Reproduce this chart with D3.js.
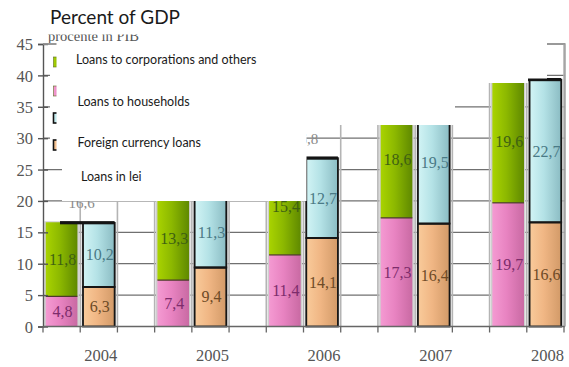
<!DOCTYPE html>
<html>
<head>
<meta charset="utf-8">
<script src="https://cdn.jsdelivr.net/npm/d3@7"></script>
<style>
  body { margin: 0; background: #fff; }
  svg { display: block; }
</style>
</head>
<body>
<svg id="chart" width="569" height="367"></svg>
<script>
// Loans as percent of GDP, 2004-2008
const years = ["2004", "2005", "2006", "2007", "2008"];
const households = [4.8, 7.4, 11.4, 17.3, 19.7];
const corporations = [11.8, 13.3, 15.4, 18.6, 19.6];
const leiLoans = [6.3, 9.4, 14.1, 16.4, 16.6];
const foreignLoans = [10.2, 11.3, 12.7, 19.5, 22.7];
const totals = [16.6, 20.7, 26.8, 35.9, 39.3];
const yTicks = [0, 5, 10, 15, 20, 25, 30, 35, 40, 45];
const legendLabels = ["Loans to corporations and others", "Loans to households", "Foreign currency loans", "Loans in lei"];

const svg = d3.select("#chart");
const serif = "'Liberation Serif', 'Times New Roman', serif";
const sans = "Lato, 'Open Sans', sans-serif";

// Each year takes a slot for the sector bar, a slot for the currency bar, and an empty slot
const slots = [];
years.forEach((yr, i) => {
  slots.push(yr + "-sector", yr + "-currency");
  if (i < years.length - 1) slots.push(yr + "-gap");
});

const plotLeft = 43, plotRight = 564, plotTop = 44, plotBottom = 326.5;
const x = d3.scaleBand().domain(slots).range([plotLeft, plotRight]).paddingInner(0.15).paddingOuter(0.075);
const y = d3.scaleLinear().domain([0, 45]).range([plotBottom, plotTop]);
const bw = x.bandwidth();
const half = x.step() * x.paddingInner() / 2;
const boundaries = slots.map(s => x(s) - half).concat([plotRight]);

// Gradients giving the bars their rounded look
const defs = svg.append("defs");
const palettes = {
  green: ["#a9d300", "#8cb800", "#5f8900"],
  pink: ["#f49ad2", "#e883c1", "#c96aa3"],
  cyan: ["#d2f4f5", "#b4e2e6", "#8bbcc3"],
  tan: ["#f9cb9b", "#f0b684", "#d29a68"]
};
Object.entries(palettes).forEach(([k, c]) => {
  const g = defs.append("linearGradient").attr("id", "g-" + k)
    .attr("x1", "0").attr("x2", "1").attr("y1", "0").attr("y2", "0");
  g.append("stop").attr("offset", "0").attr("stop-color", c[0]);
  g.append("stop").attr("offset", "0.45").attr("stop-color", c[1]);
  g.append("stop").attr("offset", "1").attr("stop-color", c[2]);
});
// Only the lower strip of the unit caption shows below the title area
defs.append("clipPath").attr("id", "caption-clip")
  .append("rect").attr("x", 0).attr("y", 34.5).attr("width", 300).attr("height", 8.5);

// Horizontal gridlines
svg.append("g").selectAll("line").data(yTicks.filter(t => t > 0)).join("line")
  .attr("x1", plotLeft).attr("x2", plotRight + 1)
  .attr("y1", d => y(d)).attr("y2", d => y(d))
  .attr("stroke", "#707070").attr("stroke-width", 1.3);

// Vertical slot separators
svg.append("g").selectAll("line").data(boundaries.slice(1)).join("line")
  .attr("x1", d => d).attr("x2", d => d)
  .attr("y1", plotTop).attr("y2", plotBottom)
  .attr("stroke", "#b4b4b4").attr("stroke-width", 1.6);

// Bar data
const sectorBars = years.map((yr, i) => ({
  slot: yr + "-sector",
  segs: [
    { v0: 0, v1: households[i], val: households[i], fill: "url(#g-pink)", text: "#7d2c6c" },
    { v0: households[i], v1: households[i] + corporations[i], val: corporations[i], fill: "url(#g-green)", text: "#3e6112" }
  ]
}));
const currencyBars = years.map((yr, i) => ({
  slot: yr + "-currency",
  segs: [
    { v0: 0, v1: leiLoans[i], val: leiLoans[i], fill: "url(#g-tan)", text: "#6e4b27" },
    { v0: leiLoans[i], v1: leiLoans[i] + foreignLoans[i], val: foreignLoans[i], fill: "url(#g-cyan)", text: "#4a7a86" }
  ]
}));
const fmt = v => d3.format(".1f")(v).replace(".", ",");

function drawBars(data, outlined) {
  const g = svg.append("g").selectAll("g").data(data).join("g");
  // faint shadow edge around each bar
  g.append("rect")
    .attr("x", d => x(d.slot) - 1.5).attr("width", bw + 3)
    .attr("y", d => y(d.segs[1].v1) - 1).attr("height", d => y(0) - y(d.segs[1].v1) + 1)
    .attr("fill", "#cfcfcf");
  g.selectAll("rect.seg").data(d => d.segs.map(s => ({ ...s, slot: d.slot }))).join("rect")
    .attr("class", "seg")
    .attr("x", d => x(d.slot)).attr("width", bw)
    .attr("y", d => y(d.v1)).attr("height", d => y(d.v0) - y(d.v1))
    .attr("fill", d => d.fill)
    .attr("stroke", outlined ? "#161616" : "none")
    .attr("stroke-width", 1.8);
  // divider between the two stacked parts
  g.append("line")
    .attr("x1", d => x(d.slot)).attr("x2", d => x(d.slot) + bw)
    .attr("y1", d => y(d.segs[0].v1)).attr("y2", d => y(d.segs[0].v1))
    .attr("stroke", outlined ? "#161616" : "#4b3a2a").attr("stroke-width", outlined ? 1.8 : 1.2);
  g.selectAll("text").data(d => d.segs.map(s => ({ ...s, slot: d.slot }))).join("text")
    .attr("x", d => x(d.slot) + bw / 2 + 1)
    .attr("y", d => (y(d.v0) + y(d.v1)) / 2 + 5.5)
    .attr("text-anchor", "middle")
    .attr("font-family", serif).attr("font-size", 16)
    .attr("fill", d => d.text)
    .text(d => fmt(d.val));
  return g;
}
drawBars(sectorBars, false);
drawBars(currencyBars, true);

// Dark top rim of the currency bars
svg.append("g").selectAll("rect").data(currencyBars).join("rect")
  .attr("x", d => x(d.slot) - 23).attr("width", bw + 23)
  .attr("y", d => y(d.segs[1].v1) - 1.8).attr("height", 3.2)
  .attr("fill", "#141414");

// Totals above each year
svg.append("g").selectAll("text").data(years).join("text")
  .attr("x", d => x(d + "-sector") + bw + (x(d + "-currency") - x(d + "-sector") - bw) / 2 + 1.5)
  .attr("y", (d, i) => y(totals[i]) - 14)
  .attr("text-anchor", "middle")
  .attr("font-family", serif).attr("font-size", 15)
  .attr("fill", "#8a8a8a")
  .text((d, i) => fmt(totals[i]));

// Y axis
const yAxis = svg.append("g").attr("transform", `translate(${plotLeft},0)`)
  .call(d3.axisLeft(y).tickValues(yTicks).tickSize(5).tickPadding(5).tickFormat(d3.format("d")));
yAxis.select(".domain").attr("stroke", "#555").attr("stroke-width", 1.4);
yAxis.selectAll(".tick line").attr("stroke", "#555").attr("stroke-width", 1.4);
yAxis.selectAll(".tick").append("line").attr("x2", 5).attr("stroke", "#555").attr("stroke-width", 1.4);
yAxis.selectAll(".tick text")
  .attr("font-family", serif).attr("font-size", 16.5).attr("fill", "#555").attr("dy", "0.34em");

// X axis line, slot ticks and year labels
svg.append("line").attr("x1", plotLeft).attr("x2", plotRight + 1).attr("y1", plotBottom).attr("y2", plotBottom)
  .attr("stroke", "#666").attr("stroke-width", 1.4);
svg.append("g").selectAll("line").data(boundaries).join("line")
  .attr("x1", d => d).attr("x2", d => d).attr("y1", plotBottom).attr("y2", plotBottom + 6)
  .attr("stroke", "#666").attr("stroke-width", 1.3);
svg.append("g").selectAll("text").data(years).join("text")
  .attr("x", d => x(d + "-currency") + bw / 2 + 2)
  .attr("y", 361)
  .attr("text-anchor", "middle")
  .attr("font-family", serif).attr("font-size", 16.5).attr("fill", "#555")
  .text(d => d);

// Right and top frame
svg.append("path").attr("d", `M${plotLeft},${plotTop}H${plotRight + 1}V${plotBottom}`)
  .attr("fill", "none").attr("stroke", "#9a9a9a").attr("stroke-width", 1.4);

// Unit caption of the plot
svg.append("text").attr("x", 48).attr("y", 41)
  .attr("clip-path", "url(#caption-clip)")
  .attr("font-family", serif).attr("font-size", 14.5).attr("fill", "#555")
  .text("procente în PIB");

// Original legend panel with its colour keys
svg.append("rect").attr("x", 50).attr("y", 47).attr("width", 250).attr("height", 105).attr("fill", "#fff");
const keyFills = ["url(#g-green)", "url(#g-pink)", "url(#g-cyan)", "url(#g-tan)"];
const keyY = [57, 86, 113, 140];
svg.append("g").selectAll("rect").data(keyFills).join("rect")
  .attr("x", 53.5).attr("y", (d, i) => keyY[i]).attr("width", 9).attr("height", 10)
  .attr("fill", d => d)
  .attr("stroke", (d, i) => i < 2 ? "#5a6a20" : "#111").attr("stroke-width", (d, i) => i < 2 ? 0.6 : 1.6);

// White panels carrying the English legend
const panels = [
  [56.5, 43, 250, 109],
  [62, 152, 244.5, 49],
  [306, 43, 149, 82],
  [455, 43, 73, 40],
  [528, 43, 19, 35.5]
];
svg.append("g").selectAll("rect").data(panels).join("rect")
  .attr("x", d => d[0]).attr("y", d => d[1]).attr("width", d => d[2]).attr("height", d => d[3])
  .attr("fill", "#fff");

svg.append("text").attr("x", 50).attr("y", 24)
  .attr("font-family", sans).attr("font-size", 19).attr("fill", "#1a1a1a")
  .text("Percent of GDP");

const legendPos = [[76, 64], [77.5, 105.5], [77.5, 146.5], [81, 181]];
svg.append("g").selectAll("text").data(legendLabels).join("text")
  .attr("x", (d, i) => legendPos[i][0]).attr("y", (d, i) => legendPos[i][1])
  .attr("font-family", sans).attr("font-size", 12.5).attr("fill", "#1a1a1a")
  .text(d => d);
</script>
</body>
</html>
